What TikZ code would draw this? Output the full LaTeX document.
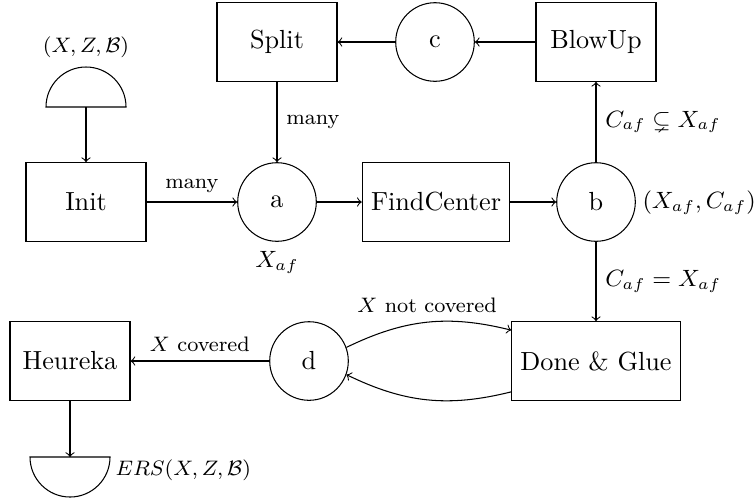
\documentclass[tikz,border=0pt]{standalone}
\usepackage{amssymb}
\usetikzlibrary{arrows}
\begin{document}
\begin{tikzpicture}[x=0.38168pt,y=-0.38168pt,
  box/.style={draw, rectangle, minimum width=45.8pt, minimum height=30pt},
  circ/.style={draw, circle, minimum size=30pt, inner sep=0pt},
  lbl/.style={font=\footnotesize},
  mlbl/.style={font=\small},
  every path/.style={line width=0.4pt}]
\useasboundingbox (0,0) rectangle (755,497);

% nodes
\node[box] (split) at (277,42) {Split};
\node[circ] (c) at (435,42) {c};
\node[box] (blowup) at (596,42) {BlowUp};
\node[box] (init) at (86,202) {Init};
\node[circ] (a) at (277,202) {a};
\node[box] (find) at (436,202) {FindCenter};
\node[circ] (b) at (596,202) {b};
\node[box] (done) at (596,361) {Done \& Glue};
\node[circ] (d) at (309,361) {d};
\node[box] (heureka) at (70,361) {Heureka};

% source semicircle
\draw (46,107) arc[start angle=180, end angle=0, radius=15.27pt] -- cycle;
\coordinate (src) at (86,107);
\node[lbl] (srclbl) at (86,47) {$(X,Z,\mathcal{B})$};

% sink semicircle
\draw (30,457) arc[start angle=180, end angle=360, radius=15.27pt] -- cycle;
\coordinate (snk) at (70,457);
\node[lbl, anchor=west, inner sep=0pt] (snklbl) at (115,470) {$ERS(X,Z,\mathcal{B})$};

% side labels
\node[mlbl, anchor=west, inner sep=0pt] (blbl) at (642,203) {$(X_{af},C_{af})$};
\node[mlbl, below] (albl) at (a.south) {$X_{af}$};

% connectors
\draw[->] (src) -- (init);
\draw[->] (init) -- node[above, lbl] {many} (a);
\draw[->] (split) -- node[right, lbl] {many} (a);
\draw[->] (a) -- (find);
\draw[->] (find) -- (b);
\draw[->] (b) -- node[right, mlbl] {$C_{af} \subsetneq X_{af}$} (blowup);
\draw[->] (blowup) -- (c);
\draw[->] (c) -- (split);
\draw[->] (b) -- node[right, mlbl] {$C_{af} = X_{af}$} (done);
\draw[->] (d) to[bend left=20] node[above, lbl] {$X$ not covered} (done);
\draw[->] (done) to[bend left=20] (d);
\draw[->] (d) -- node[above, lbl] {$X$ covered} (heureka);
\draw[->] (heureka) -- (snk);
\end{tikzpicture}
\end{document}
